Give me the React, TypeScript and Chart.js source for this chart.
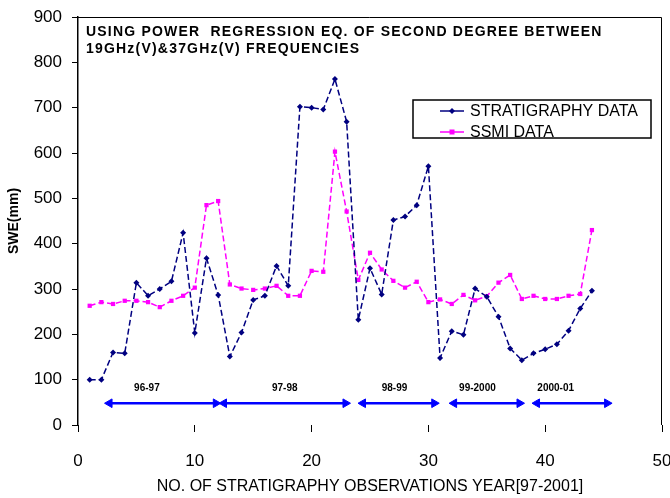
import React, { useEffect, useRef } from "react";
import { Chart, registerables } from "chart.js";

Chart.register(...registerables);

// ---------- data ----------
const observationNo = [
  1, 2, 3, 4, 5, 6, 7, 8, 9, 10, 11, 12, 13, 14, 15, 16, 17, 18, 19, 20, 21, 22,
  23, 24, 25, 26, 27, 28, 29, 30, 31, 32, 33, 34, 35, 36, 37, 38, 39, 40, 41, 42,
  43, 44,
];
const stratigraphySWE = [
  100, 100, 160, 158, 314, 285, 300, 317, 424, 203, 368, 287, 151, 204, 276, 285,
  351, 307, 702, 700, 696, 763, 669, 232, 346, 288, 452, 460, 485, 571, 148, 207,
  199, 301, 283, 239, 169, 143, 158, 167, 178, 208, 257, 296,
];
const ssmiSWE = [
  263, 271, 267, 274, 274, 271, 260, 274, 285, 303, 485, 494, 310, 301, 298, 301,
  307, 285, 285, 340, 338, 603, 471, 320, 380, 343, 318, 303, 316, 271, 277, 267,
  287, 275, 284, 314, 331, 278, 285, 278, 278, 285, 289, 430,
];
const seriesNames = ["STRATIGRAPHY DATA", "SSMI DATA"];
const titleLines = [
  "USING POWER  REGRESSION EQ. OF SECOND DEGREE BETWEEN",
  "19GHz(V)&37GHz(V) FREQUENCIES",
];
const xAxisTitle = "NO. OF STRATIGRAPHY OBSERVATIONS YEAR[97-2001]";
const yAxisTitle = "SWE(mm)";
const xMin = 0;
const xMax = 50;
const xStep = 10;
const yMin = 0;
const yMax = 900;
const yStep = 100;

const periodLabels = ["96-97", "97-98", "98-99", "99-2000", "2000-01"];
const periodStart = [2.7, 12.5, 24.4, 32.2, 39.3];
const periodEnd = [11.8, 22.9, 30.5, 37.8, 45.3];
const periodLabelX = [5.9, 17.7, 27.1, 34.2, 40.9];
const arrowLevel = 48;
const periodLabelLevel = 82;

// ---------- styling ----------
const FONT = "'Liberation Sans', Arial, Helvetica, sans-serif";
const NAVY = "#000080";
const MAGENTA = "#FF00FF";
const ARROW_BLUE = "#0000FF";

const decorPlugin = {
  id: "decor",
  afterDraw(chart: any) {
    const { ctx, chartArea, scales } = chart;
    const xs = scales.x;
    const ys = scales.y;
    ctx.save();

    // frame (top and right)
    ctx.strokeStyle = "#000";
    ctx.lineWidth = 1;
    ctx.beginPath();
    ctx.moveTo(chartArea.left, Math.round(chartArea.top) + 0.5);
    ctx.lineTo(Math.round(chartArea.right) - 0.5, Math.round(chartArea.top) + 0.5);
    ctx.lineTo(Math.round(chartArea.right) - 0.5, chartArea.bottom);
    ctx.stroke();

    // title inside plot
    ctx.fillStyle = "#000";
    ctx.textAlign = "left";
    ctx.textBaseline = "middle";
    ctx.font = `bold 14px ${FONT}`;
    try {
      (ctx as any).letterSpacing = "1.2px";
    } catch (e) {}
    titleLines.forEach((t, i) => {
      ctx.fillText(t, chartArea.left + 8, chartArea.top + 15 + i * 17);
    });
    try {
      (ctx as any).letterSpacing = "0px";
    } catch (e) {}

    // period labels
    ctx.font = `bold 10px ${FONT}`;
    ctx.textAlign = "center";
    periodLabels.forEach((t, i) => {
      ctx.fillText(
        t,
        xs.getPixelForValue(periodLabelX[i]),
        ys.getPixelForValue(periodLabelLevel)
      );
    });

    // legend
    const boxRight = chartArea.right - 11;
    const boxLeft = boxRight - 238;
    const boxTop = chartArea.top + 83;
    const boxH = 38;
    ctx.fillStyle = "#fff";
    ctx.fillRect(boxLeft, boxTop, boxRight - boxLeft, boxH);
    ctx.strokeStyle = "#000";
    ctx.lineWidth = 1.5;
    ctx.strokeRect(boxLeft, boxTop, boxRight - boxLeft, boxH);
    const items = [0, 1];
    items.forEach((di) => {
      const ds = chart.data.datasets[di];
      const cy = boxTop + 11 + di * 21;
      const lx0 = boxLeft + 27;
      const lx1 = boxLeft + 51;
      ctx.strokeStyle = ds.borderColor;
      ctx.lineWidth = 1.5;
      ctx.setLineDash([]);
      ctx.beginPath();
      ctx.moveTo(lx0, cy);
      ctx.lineTo(lx1, cy);
      ctx.stroke();
      ctx.fillStyle = ds.borderColor;
      const mx = (lx0 + lx1) / 2;
      if (ds.pointStyle === "rect") {
        ctx.fillRect(mx - 2.5, cy - 2.5, 5, 5);
      } else {
        ctx.beginPath();
        ctx.moveTo(mx, cy - 3);
        ctx.lineTo(mx + 3, cy);
        ctx.lineTo(mx, cy + 3);
        ctx.lineTo(mx - 3, cy);
        ctx.closePath();
        ctx.fill();
      }
      ctx.fillStyle = "#000";
      ctx.font = `16px ${FONT}`;
      ctx.textAlign = "left";
      ctx.textBaseline = "middle";
      ctx.fillText(ds.label, lx1 + 6, cy + 1);
    });

    ctx.restore();
  },
};

export default function App() {
  const canvasRef = useRef<HTMLCanvasElement | null>(null);

  useEffect(() => {
    if (!canvasRef.current) return;

    const arrowSets = periodLabels.map((name, i) => ({
      label: name,
      data: [
        { x: periodStart[i], y: arrowLevel },
        { x: periodEnd[i], y: arrowLevel },
      ],
      borderColor: ARROW_BLUE,
      backgroundColor: ARROW_BLUE,
      borderWidth: 2.5,
      pointStyle: "triangle",
      pointRotation: [-90, 90],
      pointRadius: 5,
      pointBorderWidth: 1,
      tension: 0,
    }));

    const chart = new Chart(canvasRef.current, {
      type: "line",
      data: {
        datasets: [
          {
            label: seriesNames[0],
            data: observationNo.map((x, i) => ({ x, y: stratigraphySWE[i] })),
            borderColor: NAVY,
            backgroundColor: NAVY,
            borderWidth: 1.5,
            borderDash: [6, 3],
            pointStyle: "rectRot",
            pointRadius: 3,
            pointBorderWidth: 0,
            tension: 0,
          },
          {
            label: seriesNames[1],
            data: observationNo.map((x, i) => ({ x, y: ssmiSWE[i] })),
            borderColor: MAGENTA,
            backgroundColor: MAGENTA,
            borderWidth: 1.5,
            borderDash: [6, 3],
            pointStyle: "rect",
            pointRadius: 3,
            pointBorderWidth: 0,
            tension: 0,
          },
          ...arrowSets,
        ] as any,
      },
      options: {
        responsive: false,
        animation: false,
        layout: { padding: { top: 17, right: 8, left: 0, bottom: 0 } },
        plugins: {
          legend: { display: false },
          tooltip: { enabled: false },
          title: { display: false },
        },
        scales: {
          x: {
            type: "linear",
            min: xMin,
            max: xMax,
            ticks: {
              stepSize: xStep,
              color: "#000",
              font: { family: FONT, size: 17 },
              padding: 19,
              maxRotation: 0,
            },
            grid: {
              display: true,
              drawOnChartArea: false,
              drawTicks: true,
              tickLength: 7,
              color: "#000",
            },
            border: { display: false },
            title: {
              display: true,
              text: xAxisTitle,
              color: "#000",
              font: { family: FONT, size: 16 },
              padding: { top: 0, bottom: 2 },
            },
            afterFit: (scale: any) => {
              scale.height = 73;
              scale.paddingLeft = 0;
              scale.paddingRight = 0;
            },
          },
          y: {
            type: "linear",
            min: yMin,
            max: yMax,
            ticks: {
              stepSize: yStep,
              color: "#000",
              font: { family: FONT, size: 17 },
              padding: 10,
            },
            grid: {
              display: true,
              drawOnChartArea: false,
              drawTicks: true,
              tickLength: 6,
              color: "#000",
            },
            border: { display: true, color: "#000", width: 1.5 },
            title: {
              display: true,
              text: yAxisTitle,
              color: "#000",
              font: { family: FONT, size: 14, weight: "bold" },
              padding: { top: 6, bottom: 0 },
            },
            afterFit: (scale: any) => {
              scale.width = 78;
              scale.paddingTop = 0;
              scale.paddingBottom = 0;
            },
          },
        },
      } as any,
      plugins: [decorPlugin],
    });

    return () => chart.destroy();
  }, []);

  return (
    <div style={{ position: "fixed", left: 0, top: 0, width: 670, height: 498, background: "#fff" }}>
      <canvas ref={canvasRef} width={670} height={498} />
    </div>
  );
}
